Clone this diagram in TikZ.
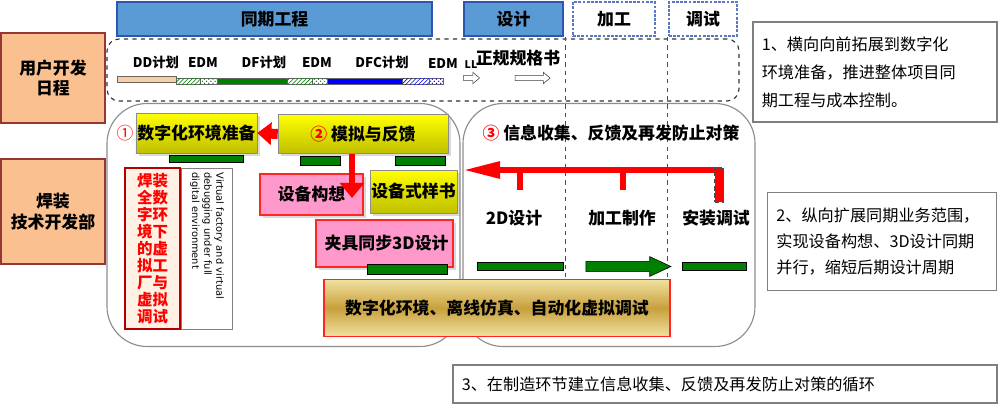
\documentclass[tikz,border=0pt]{standalone}
\usepackage{fontspec}
\setmainfont{Noto Sans CJK SC}
\newfontfamily\latinfont{DejaVu Sans}
\usetikzlibrary{arrows.meta,shapes.arrows,patterns,positioning,shadows}
\definecolor{headblue}{RGB}{91,155,213}
\definecolor{headline}{RGB}{47,85,180}
\definecolor{deptorange}{RGB}{250,192,144}
\definecolor{deptline}{RGB}{149,55,53}
\definecolor{barpeach}{RGB}{250,205,165}
\definecolor{bargreen}{RGB}{0,128,0}
\definecolor{barblue}{RGB}{0,0,255}
\definecolor{boxpink}{RGB}{255,153,204}
\definecolor{notegray}{RGB}{127,127,127}
\definecolor{goldlight}{RGB}{240,225,160}
\definecolor{golddark}{RGB}{200,160,60}
\tikzset{
	header/.style={
		rectangle,
		draw=headline,
		line width=1pt,
		fill=headblue,
		minimum height=8.5mm,
		font=\bfseries\fontsize{12}{14}\selectfont
	},
	stage/.style={
		rectangle,
		draw=headline!80,
		line width=2pt,
		densely dotted,
		fill=white,
		minimum height=8.5mm,
		font=\bfseries\fontsize{12}{14}\selectfont
	},
	dept/.style={
		rectangle,
		draw=deptline,
		thick,
		fill=deptorange,
		minimum width=26mm,
		align=center,
		font=\bfseries\fontsize{12}{14.5}\selectfont
	},
	note/.style={
		rectangle,
		draw=notegray,
		thick,
		fill=white,
		align=left,
		inner xsep=2.2mm,
		font=\fontsize{11.5}{20}\selectfont
	},
	region/.style={
		rectangle,
		draw=black!45,
		thick,
		rounded corners=10mm
	},
	yellowbox/.style={
		rectangle,
		draw=black!45,
		top color=yellow,
		bottom color=yellow!75!black,
		drop shadow={opacity=0.3,shadow xshift=0.7mm,shadow yshift=-0.7mm},
		inner sep=0pt,
		font=\bfseries\fontsize{12}{14}\selectfont
	},
	pinkbox/.style={
		rectangle,
		draw=red!85,
		thick,
		fill=boxpink,
		drop shadow={opacity=0.3,shadow xshift=0.7mm,shadow yshift=-0.7mm},
		inner sep=0pt,
		font=\bfseries\fontsize{12}{14}\selectfont
	},
	greenbar/.style={
		rectangle,
		draw=black,
		fill=bargreen,
		inner sep=0pt
	},
	steptext/.style={
		font=\bfseries\fontsize{12}{14}\selectfont
	},
	plantext/.style={
		inner sep=0pt,
		font=\bfseries\fontsize{9.5}{11}\selectfont
	},
	hollowarrow/.style={
		single arrow,
		draw=black!75,
		fill=white,
		inner sep=0.6mm,
		single arrow head extend=0.75mm,
		single arrow tip angle=80
	},
	fatarrow/.style={
		draw=red,
		line width=2.5mm,
		-{Triangle[length=3.5mm,width=5.5mm]}
	},
	downarrow/.style={
		draw=red,
		line width=1.7mm,
		-{Triangle[length=3.8mm,width=6mm]}
	},
	backarrow/.style={
		draw=red,
		line width=1.5mm,
		-{Triangle[length=9.3mm,width=4mm]}
	},
	sepline/.style={
		draw=black!70,
		dashed,
		thin
	}
}

\begin{document}
\begin{tikzpicture}[x=0.25mm,y=-0.25mm]
\useasboundingbox (0,0) rectangle (1000,406);
% stages on top
\node[header,minimum width=78.75mm] (tongqi) at (274.5,19) {同期工程};
\node[header,minimum width=24.75mm] (sheji) at (513.5,19) {设计};
\node[stage,minimum width=20.5mm] (jiagong) at (614,19) {加工};
\node[stage,minimum width=17mm] (tiaoshi) at (703,19) {调试};

% departments
\node[dept,minimum height=22.5mm] (yonghu) at (53,78) {用户开发\\日程};
\node[dept,minimum height=26.25mm] (hanzhuang) at (53,211.5) {焊装\\技术开发部};

% schedule
\node[rectangle,draw=black!80,dashed,thick,rounded corners=3mm,minimum width=158mm,minimum height=15.5mm] (plan) at (423,70) {};
\fill[barpeach,draw=black!60] (117,76) rectangle (176,82);
\foreach \xa/\xb/\col in {217/287/bargreen,327/402/barblue}
	\draw[black!60,fill=\col] (\xa,78) rectangle (\xb,84);
\foreach \xa/\xb/\col/\pat in {176/200/bargreen/north east lines,200/217/bargreen/crosshatch dots,
	287/312/bargreen/north east lines,312/327/bargreen/crosshatch dots,
	402/429/barblue/north east lines,429/443/barblue/crosshatch dots}{
	\draw[black!60,fill=white] (\xa,78) rectangle (\xb,84);
	\fill[pattern=\pat,pattern color=\col] (\xa,78) rectangle (\xb,84);
}
\node[plantext] (dd) at (156,62) {DD计划};
\node[plantext] (edma) at (203,63) {EDM};
\node[plantext] (df) at (264,62) {DF计划};
\node[plantext] (edmb) at (317,63) {EDM};
\node[plantext] (dfc) at (382,62) {DFC计划};
\node[plantext] (edmc) at (443,64) {EDM};
\node[plantext,font=\bfseries\fontsize{7.5}{9}\selectfont] (ll) at (471,65) {LL};
\node[plantext,font=\bfseries\fontsize{12}{14}\selectfont] (zhenggui) at (518,58) {正规规格书};
\node[hollowarrow,minimum height=4mm] (arra) at (470,78) {};
\node[hollowarrow,minimum height=8.75mm] (arrb) at (531,78) {};

% the two regions
\node[region,minimum width=88.25mm,minimum height=60.75mm] (left) at (283.5,225) {};
\node[region,minimum width=73mm,minimum height=60.75mm] (right) at (609,225) {};
\draw[sepline] (565,37) -- (565,280);
\draw[sepline] (667,37) -- (667,280);

% left region
\node[yellowbox,minimum width=30.25mm,minimum height=10mm] (env) at (196.5,133) {数字化环境准备};
\node[text=red,font=\fontsize{12}{14}\selectfont,inner sep=0pt] (n1) at (125,133) {①};
\node[greenbar,minimum width=18.5mm,minimum height=1.75mm] (gba) at (206,158.5) {};
\node[yellowbox,minimum width=42.5mm,minimum height=9.75mm] (sim) at (363,134) {\textcolor{red}{②} 模拟与反馈};
\node[greenbar,minimum width=10mm,minimum height=2.25mm] (gbb) at (320,160.5) {};
\node[greenbar,minimum width=12.5mm,minimum height=2.25mm] (gbc) at (420,160.5) {};
\node[pinkbox,minimum width=25.75mm,minimum height=10.25mm] (idea) at (311.5,194.5) {设备构想};
\node[yellowbox,minimum width=21.75mm,minimum height=10.75mm] (spec) at (413.5,191.5) {设备式样书};
\node[pinkbox,minimum width=34.25mm,minimum height=11.75mm,text width=32mm,align=right] (jig) at (384.5,243.5) {夹具同步3D设计};
\node[greenbar,minimum width=20mm,minimum height=2.5mm] (gbd) at (407,269) {};
\node[rectangle,draw=red!70!black,thick,fill=orange!10,minimum width=13.75mm,minimum height=40.25mm,
	align=center,text=red,font=\bfseries\fontsize{11}{12.1}\selectfont] (vfac) at (152.5,248.5)
	{焊装\\全数\\字环\\境下\\的虚\\拟工\\厂与\\虚拟\\调试};
\node[rectangle,draw=black!50,fill=white,rotate=-90,minimum width=40.25mm,minimum height=12.75mm,
	text width=38mm,align=left,font=\latinfont\fontsize{7}{8.6}\selectfont] (vtext) at (207,248.5)
	{Virtual factory and virtual\\debugging under full\\digital environment};
\draw[fatarrow] (sim.west) -- (env.east);
\coordinate (downtip) at (352,198);
\draw[downarrow] (sim.south -| downtip) -- (downtip);

% right region
\node[steptext,inner sep=0pt] (infohead) at (611,133) {\textcolor{red}{③} 信息收集、反馈及再发防止对策};
\coordinate (backtail) at (722,170);
\coordinate (backtip) at (463,170);
\draw[backarrow] (backtail) -- (backtip);
\fill[red] (517,170) rectangle (523,190);
\fill[red] (620,170) rectangle (626,190);
\node[rectangle,draw=black!70,densely dashed,fill=red,minimum width=2.25mm,minimum height=8.5mm,inner sep=0pt] (tickc) at (719,185) {};
\node[steptext] (d2) at (514,218) {2D设计};
\node[steptext] (make) at (622,218) {加工制作};
\node[steptext] (install) at (716,218) {安装调试};
\node[greenbar,minimum width=21.5mm,minimum height=2mm] (gbe) at (520,266) {};
\node[single arrow,draw=black,fill=bargreen,inner sep=1.2mm,minimum height=21.25mm,
	single arrow head extend=1.2mm,single arrow tip angle=50] (garrow) at (623,266.5) {};
\node[greenbar,minimum width=16mm,minimum height=2mm] (gbf) at (714,266) {};

% bottom bar
\node[rectangle,draw=red!85,thick,top color=goldlight,bottom color=goldlight,middle color=golddark,
	minimum width=86.5mm,minimum height=14.25mm,font=\bfseries\fontsize{12}{14}\selectfont] (gold) at (497,308)
	{数字化环境、离线仿真、自动化虚拟调试};

% notes
\node[note,minimum width=61mm,minimum height=25mm,text width=56.6mm] (notea) at (875,72)
	{1、横向向前拓展到数字化\\环境准备，推进整体项目同\\期工程与成本控制。};
\node[note,minimum width=57.25mm,minimum height=24.5mm,text width=52.8mm,font=\fontsize{11.5}{18.5}\selectfont] (noteb) at (882,241.5)
	{2、纵向扩展同期业务范围，\\实现设备构想、3D设计同期\\并行，缩短后期设计周期};
\node[note,minimum width=136mm,minimum height=9.5mm,text width=131.6mm] (notec) at (725,384)
	{3、在制造环节建立信息收集、反馈及再发防止对策的循环};
\end{tikzpicture}
\end{document}
